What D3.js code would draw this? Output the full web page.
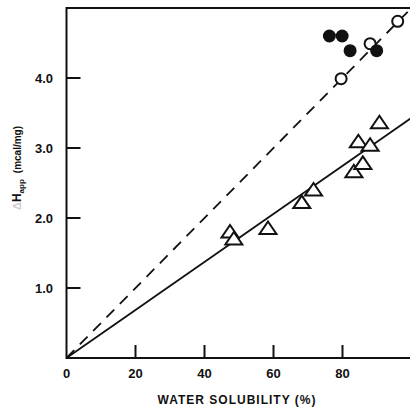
<!DOCTYPE html>
<html>
<head>
<meta charset="utf-8">
<script src="https://cdn.jsdelivr.net/npm/d3@7"></script>
<style>
  body { margin: 0; background: #fff; }
  svg { display: block; }
  text { font-family: "Liberation Sans", Arial, sans-serif; font-weight: bold; fill: #111; }
</style>
</head>
<body>
<svg width="410" height="411"></svg>
<script>
// data
var xTicks = [20, 40, 60, 80];
var yTicks = [1, 2, 3, 4];

var filledX = [76.2, 79.9, 82.2, 89.9];
var filledY = [4.60, 4.60, 4.39, 4.39];

var openX = [79.6, 88.0, 96.0];
var openY = [3.99, 4.49, 4.81];

var triX = [47.4, 48.5, 58.4, 68.2, 71.6, 83.3, 84.6, 85.9, 88.0, 90.7];
var triY = [1.80, 1.70, 1.85, 2.22, 2.40, 2.66, 3.09, 2.78, 3.04, 3.36];

// fitted lines through the origin
var dashedX = [0, 100];
var dashedY = [0, 5.0];
var solidX = [0, 100];
var solidY = [0, 3.43];

var ink = "#111";

var svg = d3.select("svg");
var x = d3.scaleLinear().domain([0, 100]).range([66.5, 411.5]);
var y = d3.scaleLinear().domain([0, 5]).range([358, 8]);

var line = d3.line()
    .x(function (d) { return x(d[0]); })
    .y(function (d) { return y(d[1]); });

// frame: left axis, bottom axis, top edge
svg.append("path")
    .attr("d", "M" + x(100) + "," + y(5) + "H" + x(0) + "V" + y(0) + "H" + x(100))
    .attr("fill", "none")
    .attr("stroke", ink)
    .attr("stroke-width", 2);

// ticks point inward
svg.selectAll(".xtick").data(xTicks).enter().append("line")
    .attr("x1", function (d) { return x(d); })
    .attr("x2", function (d) { return x(d); })
    .attr("y1", y(0))
    .attr("y2", y(0) - 13)
    .attr("stroke", ink).attr("stroke-width", 2);

svg.selectAll(".ytick").data(yTicks).enter().append("line")
    .attr("x1", x(0))
    .attr("x2", x(0) + 14)
    .attr("y1", function (d) { return y(d); })
    .attr("y2", function (d) { return y(d); })
    .attr("stroke", ink).attr("stroke-width", 2);

// tick labels
svg.selectAll(".xlab").data([0].concat(xTicks)).enter().append("text")
    .attr("x", function (d) { return x(d); })
    .attr("y", 378)
    .attr("text-anchor", "middle")
    .attr("font-size", 13)
    .text(function (d) { return d; });

svg.selectAll(".ylab").data(yTicks).enter().append("text")
    .attr("x", 53)
    .attr("y", function (d) { return y(d) + 5; })
    .attr("text-anchor", "end")
    .attr("font-size", 13)
    .text(function (d) { return d3.format(".1f")(d); });

// axis titles
svg.append("text")
    .attr("x", 237)
    .attr("y", 404)
    .attr("text-anchor", "middle")
    .attr("font-size", 12)
    .attr("letter-spacing", 1)
    .text("WATER SOLUBILITY (%)");

var yt = svg.append("text")
    .attr("transform", "translate(21,168) rotate(-90)")
    .attr("text-anchor", "middle")
    .attr("font-size", 11);
yt.append("tspan").attr("fill", "#ccc").text("Δ");
yt.append("tspan").attr("font-size", 12).text("H");
yt.append("tspan").attr("font-size", 8).attr("dy", 3).text("app");
yt.append("tspan").attr("dy", -3).attr("dx", 6).attr("font-size", 10).text("(mcal/mg)");

// fit lines
svg.append("path")
    .datum(d3.zip(dashedX, dashedY))
    .attr("d", line)
    .attr("fill", "none")
    .attr("stroke", ink)
    .attr("stroke-width", 1.8)
    .attr("stroke-dasharray", "11,8");

svg.append("path")
    .datum(d3.zip(solidX, solidY))
    .attr("d", line)
    .attr("fill", "none")
    .attr("stroke", ink)
    .attr("stroke-width", 1.8);

// triangles
var tri = "M0,-7L8.5,5.5L-8.5,5.5Z";
svg.selectAll(".tri").data(d3.zip(triX, triY)).enter().append("path")
    .attr("d", tri)
    .attr("transform", function (d) { return "translate(" + x(d[0]) + "," + y(d[1]) + ")"; })
    .attr("fill", "#fff")
    .attr("stroke", ink)
    .attr("stroke-width", 2);

// open circles
svg.selectAll(".open").data(d3.zip(openX, openY)).enter().append("circle")
    .attr("cx", function (d) { return x(d[0]); })
    .attr("cy", function (d) { return y(d[1]); })
    .attr("r", 5.5)
    .attr("fill", "#fff")
    .attr("stroke", ink)
    .attr("stroke-width", 2);

// filled circles
svg.selectAll(".filled").data(d3.zip(filledX, filledY)).enter().append("circle")
    .attr("cx", function (d) { return x(d[0]); })
    .attr("cy", function (d) { return y(d[1]); })
    .attr("r", 6.5)
    .attr("fill", ink);
</script>
</body>
</html>
